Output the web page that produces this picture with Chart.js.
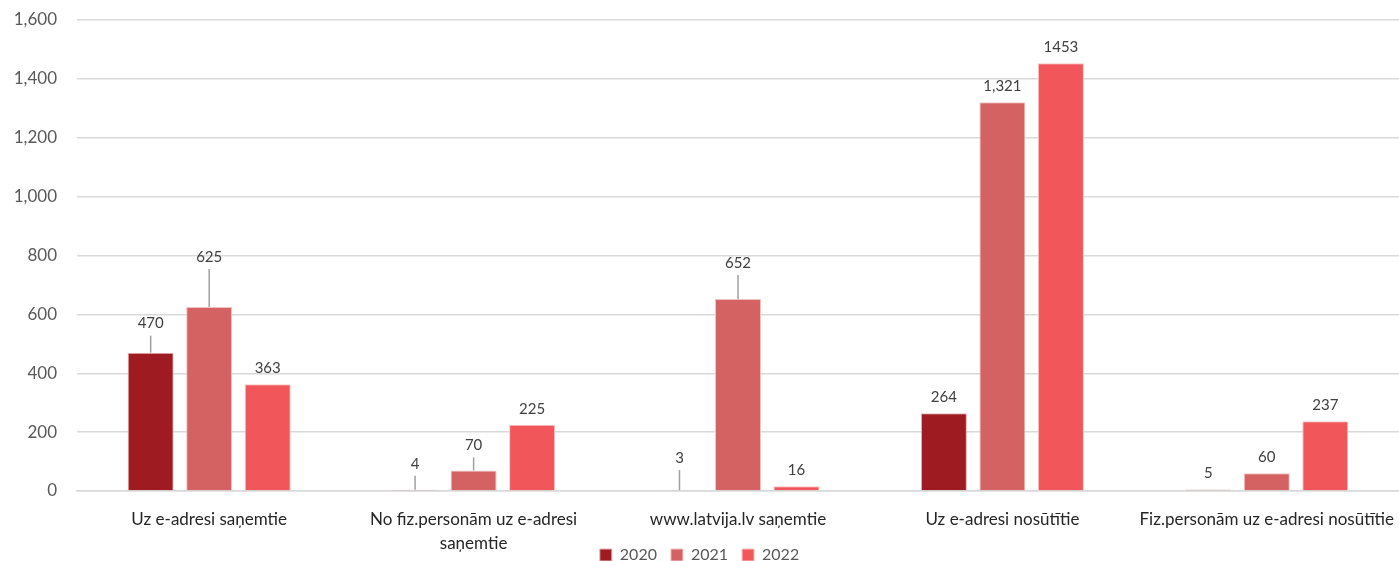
<!DOCTYPE html>
<html>
<head>
<meta charset="utf-8">
<script src="https://cdn.jsdelivr.net/npm/chart.js@4.4.1/dist/chart.umd.min.js"></script>
<style>
  html, body { margin: 0; padding: 0; background: #fff; }
  .wrap { width: 1399px; height: 561px; position: relative; }
</style>
</head>
<body>
<div class="wrap"><canvas class="js-chart"></canvas></div>
<script>
const categories = [
  'Uz e-adresi saņemtie',
  ['No fiz.personām uz e-adresi', 'saņemtie'],
  'www.latvija.lv saņemtie',
  'Uz e-adresi nosūtītie',
  'Fiz.personām uz e-adresi nosūtītie'
];
const years = ['2020', '2021', '2022'];
const values2020 = [470, 4, 3, 264, 5];
const values2021 = [625, 70, 652, 1321, 60];
const values2022 = [363, 225, 16, 1453, 237];
const yTicks = [0, 200, 400, 600, 800, 1000, 1200, 1400, 1600];

// extra lift (px) for labels that sit on a leader line
const leaderLift = [
  [13, 10, 16, 0, 0],
  [34, 9, 20, 0, 0],
  [0, 0, 0, 0, 0]
];

const valueLabels = {
  id: 'valueLabels',
  afterDatasetsDraw(chart) {
    const ctx = chart.ctx;
    ctx.save();
    ctx.font = '15px Lato';
    ctx.textAlign = 'center';
    ctx.textBaseline = 'middle';
    chart.data.datasets.forEach((ds, d) => {
      const meta = chart.getDatasetMeta(d);
      meta.data.forEach((bar, i) => {
        const v = ds.data[i];
        const lift = leaderLift[d][i];
        const ly = bar.y - 16 - lift;
        if (lift > 0) {
          ctx.strokeStyle = '#a0a0a0';
          ctx.lineWidth = 1.5;
          ctx.beginPath();
          ctx.moveTo(bar.x, bar.y);
          ctx.lineTo(bar.x, ly + 12);
          ctx.stroke();
        }
        const txt = ds.plainNumbers ? String(v) : v.toLocaleString('en-US');
        ctx.fillStyle = '#404040';
        ctx.fillText(txt, bar.x, ly);
      });
    });
    ctx.restore();
  }
};

// legend sits beside the wrapped category label, x labels may run under it
const tightBottom = {
  id: 'tightBottom',
  afterLayout(chart) {
    chart.legend.top += 12;
    chart.legend.bottom += 12;
    const x = chart.scales.x;
    x.bottom = chart.height;
    x.height = x.bottom - x.top;
  }
};

const ctx = document.querySelector('.js-chart').getContext('2d');

const chart = new Chart(ctx, {
  type: 'bar',
  data: {
    labels: categories,
    datasets: [
      { label: years[0], data: values2020, backgroundColor: '#9e1b21', borderColor: '#e8b4b6', borderWidth: 1 },
      { label: years[1], data: values2021, backgroundColor: '#d46262', borderColor: '#f0c4c4', borderWidth: 1 },
      { label: years[2], data: values2022, backgroundColor: '#f0565a', borderColor: '#fbc4c5', borderWidth: 1, plainNumbers: true }
    ]
  },
  options: {
    responsive: true,
    maintainAspectRatio: false,
    animation: false,
    categoryPercentage: 0.664,
    barPercentage: 0.786,
    layout: { padding: { top: 20, left: 0, right: 0, bottom: 0 } },
    plugins: {
      tooltip: { enabled: false },
      legend: {
        position: 'bottom',
        labels: {
          boxWidth: 12,
          boxHeight: 12,
          padding: 14,
          color: '#595959',
          font: { family: 'Lato', size: 16 }
        }
      }
    },
    scales: {
      x: {
        grid: { display: false, drawTicks: false },
        border: { display: true, color: '#d9d9d9', width: 1.5 },
        ticks: {
          color: '#262626',
          padding: 16,
          maxRotation: 0,
          autoSkip: false,
          font: { family: 'Lato', size: 17, lineHeight: 1.45 }
        },
        afterFit(scale) {
          scale.paddingLeft = 0;
          scale.paddingRight = 0;
          scale.height = 70 - scale.chart.legend.height;
        }
      },
      y: {
        min: 0,
        max: 1600,
        afterBuildTicks(scale) {
          scale.ticks = yTicks.map(v => ({ value: v }));
        },
        grid: { color: '#d9d9d9', lineWidth: 1.5, drawTicks: false },
        border: { display: false },
        ticks: {
          color: '#595959',
          padding: 20,
          font: { family: 'Lato', size: 17 },
          callback: v => v.toLocaleString('en-US')
        },
        afterFit(scale) {
          scale.width = 77;
          scale.paddingTop = 0;
          scale.paddingBottom = 0;
        }
      }
    }
  },
  plugins: [valueLabels, tightBottom]
});
</script>
</body>
</html>
